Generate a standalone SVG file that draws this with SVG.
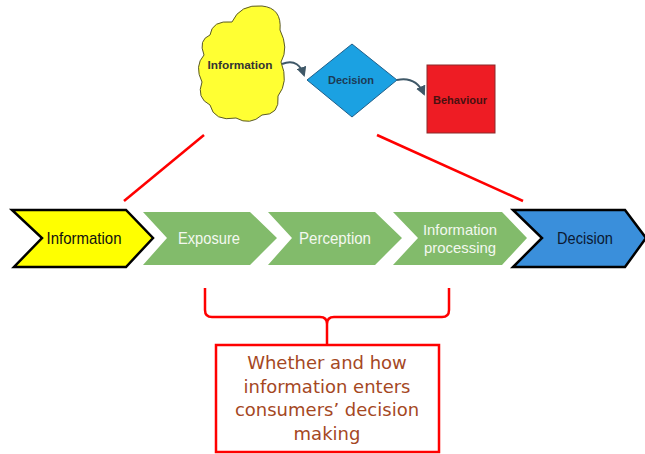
<svg xmlns="http://www.w3.org/2000/svg" width="645" height="454" viewBox="0 0 645 454">
  <style>
    .mini { font-family: "Liberation Sans", Arial, sans-serif; font-size: 11px; font-weight: bold; text-anchor: middle; dominant-baseline: central; }
    .step { font-family: "Liberation Sans", Arial, sans-serif; font-size: 17px; text-anchor: middle; dominant-baseline: central; }
    .step2 { font-size: 15px; }
    .green { fill: #82bb6b; }
    .green-text { fill: #f3f8ef; }
    .red-line { stroke: #ff0000; stroke-width: 2.5; fill: none; }
    .note { font-family: "DejaVu Sans", Verdana, sans-serif; font-size: 18px; fill: #a5481f; text-anchor: middle; }
  </style>
  <defs>
    <marker id="arr" viewBox="0 0 10 10" refX="8" refY="5" markerWidth="5" markerHeight="5" orient="auto">
      <path d="M0,0 L10,5 L0,10 Z" fill="#3f5868"/>
    </marker>
  </defs>

  <rect width="645" height="454" fill="#ffffff"/>

  <!-- small model: information -> decision -> behaviour -->
  <g id="cloud-information">
    <path d="M210,35 Q212,20 232,22 Q240,4 262,6 Q282,8 280,30 Q289,48 281,62 Q289,82 278,96 Q280,115 262,115 Q250,126 236,118 Q214,122 210,105 Q196,98 202,82 Q194,66 204,55 Q198,40 210,35 Z" fill="#ffff33" stroke="#5b5a2a" stroke-width="1"/>
    <text class="mini" x="240" y="65" fill="#333333" textLength="65" lengthAdjust="spacingAndGlyphs">Information</text>
  </g>
  <g id="diamond-decision">
    <polygon points="352,44 397,80 352,117 307,80" fill="#1ba1e2" stroke="#1f5f8a" stroke-width="1"/>
    <text class="mini" x="351" y="80" fill="#1d3b55" textLength="46" lengthAdjust="spacingAndGlyphs">Decision</text>
  </g>
  <g id="square-behaviour">
    <rect x="427" y="65" width="68" height="68" fill="#ee1c24" stroke="#8a2a2a" stroke-width="1"/>
    <text class="mini" x="460" y="100" fill="#4a1010" textLength="54" lengthAdjust="spacingAndGlyphs">Behaviour</text>
  </g>

  <g id="connectors">
    <path d="M282,64 C295,59 301,66 304,75" fill="none" stroke="#3f5868" stroke-width="2" marker-end="url(#arr)"/>
    <path d="M397,80 C411,77 419,83 424,94" fill="none" stroke="#3f5868" stroke-width="2" marker-end="url(#arr)"/>
    <line class="red-line" x1="124" y1="201" x2="204" y2="135"/>
    <line class="red-line" x1="377" y1="135" x2="523" y2="201"/>
    <!-- brace grouping the middle steps -->
    <path class="red-line" d="M205,288 L205,310 Q205,317 212,317 L320,317 Q327,317 327,324 L327,345 M327,324 Q327,317 334,317 L442,317 Q449,317 449,310 L449,288"/>
  </g>

  <!-- process chevrons -->
  <g id="step-information">
    <polygon points="12,210 126,210 153,238 126,267 14,267 42,238" fill="#ffff00" stroke="#000000" stroke-width="2.5" stroke-linejoin="miter"/>
    <text class="step" x="84" y="238" fill="#111111" textLength="75" lengthAdjust="spacingAndGlyphs">Information</text>
  </g>
  <g id="step-exposure">
    <polygon class="green" points="143,212 250,212 277,238 250,265 143,265 167,238"/>
    <text class="step green-text" x="209" y="238" textLength="62" lengthAdjust="spacingAndGlyphs">Exposure</text>
  </g>
  <g id="step-perception">
    <polygon class="green" points="268,212 375,212 402,238 375,265 268,265 292,238"/>
    <text class="step green-text" x="335" y="238" textLength="72" lengthAdjust="spacingAndGlyphs">Perception</text>
  </g>
  <g id="step-processing">
    <polygon class="green" points="393,212 502,212 527,238 502,265 393,265 418,238"/>
    <text class="step step2 green-text" x="460" y="229" textLength="74" lengthAdjust="spacingAndGlyphs">Information</text>
    <text class="step step2 green-text" x="460" y="247" textLength="72" lengthAdjust="spacingAndGlyphs">processing</text>
  </g>
  <g id="step-decision">
    <polygon points="513,210 625,210 646,238 625,267 513,267 542,238" fill="#3a8fdb" stroke="#000000" stroke-width="2.5"/>
    <text class="step" x="585" y="238" fill="#0b1a33" textLength="56" lengthAdjust="spacingAndGlyphs">Decision</text>
  </g>

  <!-- explanatory note -->
  <g id="note-box">
    <rect x="216" y="345" width="223" height="107" fill="#ffffff" stroke="#ff0000" stroke-width="2.5"/>
    <text class="note" x="327" y="369">Whether and how</text>
    <text class="note" x="327" y="393">information enters</text>
    <text class="note" x="327" y="416">consumers’ decision</text>
    <text class="note" x="327" y="440">making</text>
  </g>
</svg>
